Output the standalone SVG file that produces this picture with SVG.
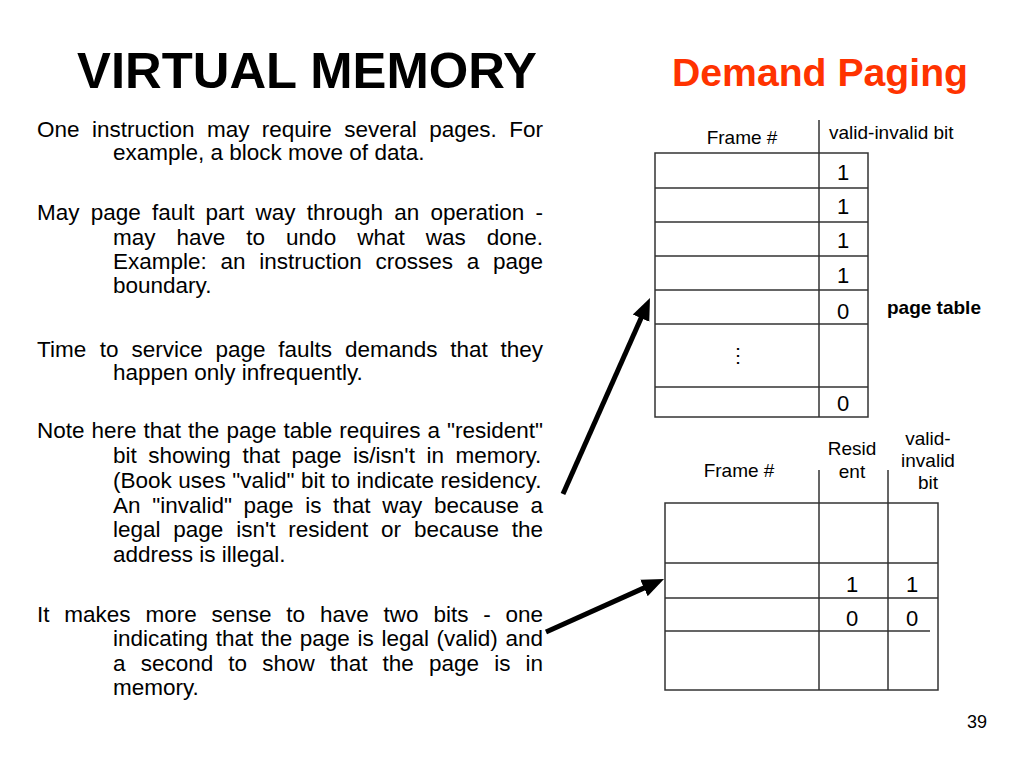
<svg xmlns="http://www.w3.org/2000/svg" width="1024" height="768" viewBox="0 0 1024 768">
<style>
text{font-family:"Liberation Sans",Arial,sans-serif;fill:#000}
.title{font-size:50px;font-weight:bold}
.sub{font-size:38px;font-weight:bold;fill:#ff3300}
.body{font-size:22.5px}
.hdr{font-size:19px}
.dig{font-size:22px;text-anchor:middle}
.grid{fill:none;stroke:#333;stroke-width:1.5}
.arrow{stroke:#000;stroke-width:5;fill:none;marker-end:url(#ah)}
</style>
<defs>
<marker id="ah" markerUnits="userSpaceOnUse" markerWidth="26" markerHeight="22" viewBox="0 -11 26 22" refX="10" refY="0" orient="auto">
<path d="M0,-9 L22,0 L0,9 z" fill="#000"/>
</marker>
</defs>
<rect width="1024" height="768" fill="#fff"/>

<text class="title" x="77" y="88" textLength="460" lengthAdjust="spacingAndGlyphs">VIRTUAL MEMORY</text>
<text class="sub" x="672" y="86" textLength="296" lengthAdjust="spacingAndGlyphs">Demand Paging</text>

<g id="body-text">
<text class="body" y="137"><tspan x="37">One</tspan><tspan x="91.9">instruction</tspan><tspan x="206.9">may</tspan><tspan x="261.8">require</tspan><tspan x="344.3">several</tspan><tspan x="429.2">pages.</tspan><tspan x="509.2">For</tspan></text>
<text class="body" x="113" y="160">example, a block move of data.</text>

<text class="body" y="220"><tspan x="37">May</tspan><tspan x="90.7">page</tspan><tspan x="151.9">fault</tspan><tspan x="205.6">part</tspan><tspan x="255.6">way</tspan><tspan x="306.8">through</tspan><tspan x="394.3">an</tspan><tspan x="430.5">operation</tspan><tspan x="535.5">-</tspan></text>
<text class="body" y="245"><tspan x="113">may</tspan><tspan x="176.5">have</tspan><tspan x="246.3">to</tspan><tspan x="286.1">undo</tspan><tspan x="357.2">what</tspan><tspan x="425.7">was</tspan><tspan x="486.7">done.</tspan></text>
<text class="body" y="269"><tspan x="113">Example:</tspan><tspan x="220.5">an</tspan><tspan x="259.2">instruction</tspan><tspan x="375.5">crosses</tspan><tspan x="466.7">a</tspan><tspan x="493">page</tspan></text>
<text class="body" x="113" y="293">boundary.</text>

<text class="body" y="357"><tspan x="37">Time</tspan><tspan x="99.8">to</tspan><tspan x="131.4">service</tspan><tspan x="215.4">page</tspan><tspan x="278.3">faults</tspan><tspan x="344.9">demands</tspan><tspan x="450.2">that</tspan><tspan x="500.5">they</tspan></text>
<text class="body" x="113" y="380">happen only infrequently.</text>

<text class="body" y="438"><tspan x="37">Note</tspan><tspan x="91.5">here</tspan><tspan x="143.6">that</tspan><tspan x="188.1">the</tspan><tspan x="226.4">page</tspan><tspan x="283.4">table</tspan><tspan x="339.2">requires</tspan><tspan x="427.5">a</tspan><tspan x="447">"resident"</tspan></text>
<text class="body" y="463"><tspan x="113">bit</tspan><tspan x="148.3">showing</tspan><tspan x="242.4">that</tspan><tspan x="291.5">page</tspan><tspan x="353.1">is/isn't</tspan><tspan x="426.4">in</tspan><tspan x="455.5">memory.</tspan></text>
<text class="body" y="488"><tspan x="113">(Book</tspan><tspan x="178.3">uses</tspan><tspan x="232.3">"valid"</tspan><tspan x="301">bit</tspan><tspan x="331.2">to</tspan><tspan x="356.5">indicate</tspan><tspan x="440.5">residency.</tspan></text>
<text class="body" y="513"><tspan x="113">An</tspan><tspan x="152.2">"invalid"</tspan><tspan x="243.5">page</tspan><tspan x="305.2">is</tspan><tspan x="333.1">that</tspan><tspan x="382.2">way</tspan><tspan x="433.9">because</tspan><tspan x="530.5">a</tspan></text>
<text class="body" y="537"><tspan x="113">legal</tspan><tspan x="173.3">page</tspan><tspan x="236.2">isn't</tspan><tspan x="288.3">resident</tspan><tspan x="381.1">or</tspan><tspan x="413.9">because</tspan><tspan x="511.8">the</tspan></text>
<text class="body" x="113" y="562">address is illegal.</text>

<text class="body" y="622"><tspan x="37">It</tspan><tspan x="64.3">makes</tspan><tspan x="145.4">more</tspan><tspan x="211.5">sense</tspan><tspan x="286.3">to</tspan><tspan x="319.9">have</tspan><tspan x="383.5">two</tspan><tspan x="433.4">bits</tspan><tspan x="483.2">-</tspan><tspan x="505.5">one</tspan></text>
<text class="body" y="646"><tspan x="113">indicating</tspan><tspan x="215.7">that</tspan><tspan x="260.9">the</tspan><tspan x="299.8">page</tspan><tspan x="357.5">is</tspan><tspan x="381.4">legal</tspan><tspan x="436.6">(valid)</tspan><tspan x="505.5">and</tspan></text>
<text class="body" y="671"><tspan x="113">a</tspan><tspan x="140.7">second</tspan><tspan x="228.3">to</tspan><tspan x="262.2">show</tspan><tspan x="329.9">that</tspan><tspan x="382.6">the</tspan><tspan x="429">page</tspan><tspan x="494.2">is</tspan><tspan x="525.6">in</tspan></text>
<text class="body" x="113" y="695">memory.</text>
</g>

<g id="page-table">
<rect class="grid" x="655" y="153" width="213" height="264"/>
<path class="grid" d="M655,188H868M655,222H868M655,256H868M655,290H868M655,324H868M655,387H868M819,120V417"/>
<text class="hdr" x="742" y="144" text-anchor="middle">Frame #</text>
<text class="hdr" x="829" y="139">valid-invalid bit</text>
<text class="dig" x="843" y="180">1</text>
<text class="dig" x="843" y="214">1</text>
<text class="dig" x="843" y="248">1</text>
<text class="dig" x="843" y="283">1</text>
<text class="dig" x="843" y="319">0</text>
<text class="dig" x="843" y="411">0</text>
<text x="738" y="362" font-family="DejaVu Sans, sans-serif" font-size="20" text-anchor="middle">⋮</text>
<text x="887" y="314" font-size="19" font-weight="bold">page table</text>
</g>

<g id="two-bit-table">
<rect class="grid" x="665" y="503" width="273" height="187"/>
<path class="grid" d="M665,563H938M665,598H938M665,631H930M819,470V690M888,470V690"/>
<text class="hdr" x="739" y="477" text-anchor="middle">Frame #</text>
<text class="hdr" x="852" y="455" text-anchor="middle">Resid</text>
<text class="hdr" x="852" y="478" text-anchor="middle">ent</text>
<text class="hdr" x="928" y="445" text-anchor="middle">valid-</text>
<text class="hdr" x="928" y="467" text-anchor="middle">invalid</text>
<text class="hdr" x="928" y="489" text-anchor="middle">bit</text>
<text class="dig" x="852" y="592">1</text>
<text class="dig" x="912" y="592">1</text>
<text class="dig" x="852" y="626">0</text>
<text class="dig" x="912" y="626">0</text>
</g>

<g id="connectors">
<line class="arrow" x1="563" y1="494" x2="645.1" y2="309"/>
<line class="arrow" x1="546" y1="632" x2="653.1" y2="583.9"/>
</g>

<text x="987" y="728" font-size="18" text-anchor="end">39</text>
</svg>
